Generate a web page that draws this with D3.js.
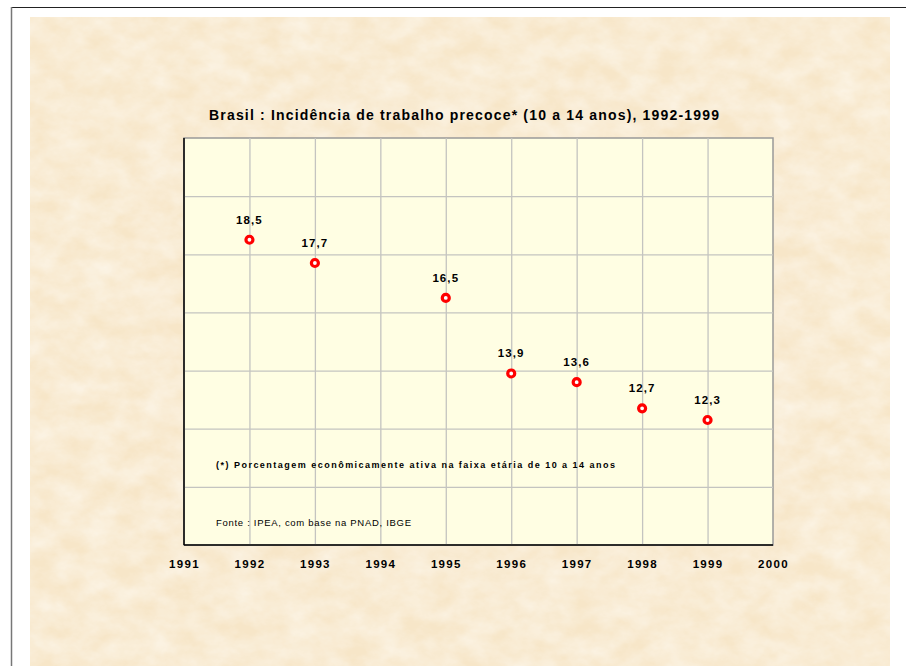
<!DOCTYPE html>
<html>
<head>
<meta charset="utf-8">
<script src="https://cdn.jsdelivr.net/npm/d3@7"></script>
<style>
  body { margin: 0; background: #fff; }
  text { font-family: "Liberation Sans", Arial, sans-serif; fill: #000; }
</style>
</head>
<body>
<div id="chart"></div>
<script>
// dados
var years = [1992, 1993, 1995, 1996, 1997, 1998, 1999];
var values = [18.5, 17.7, 16.5, 13.9, 13.6, 12.7, 12.3];
var labels = ["18,5", "17,7", "16,5", "13,9", "13,6", "12,7", "12,3"];
var xTicks = [1991, 1992, 1993, 1994, 1995, 1996, 1997, 1998, 1999, 2000];
var yTicks = [8, 10, 12, 14, 16, 18, 20, 22];

var title = "Brasil : Incidência de trabalho precoce* (10 a 14 anos), 1992-1999";
var note = "(*) Porcentagem econômicamente ativa na faixa etária de 10 a 14 anos";
var source = "Fonte : IPEA, com base na PNAD, IBGE";

var W = 906, H = 666;
var margin = {top: 138, left: 184},
    width = 589,
    height = 407;

var svg = d3.select("#chart").append("svg")
    .attr("width", W)
    .attr("height", H);

// textura de papel
var defs = svg.append("defs");
var paper = defs.append("filter").attr("id", "paper")
    .attr("x", 0).attr("y", 0).attr("width", 1).attr("height", 1);
paper.append("feTurbulence")
    .attr("type", "fractalNoise")
    .attr("baseFrequency", "0.035 0.05")
    .attr("numOctaves", 5)
    .attr("seed", 7);
paper.append("feColorMatrix")
    .attr("type", "matrix")
    .attr("values", "0 0 0 0 1  0 0 0 0 0.99  0 0 0 0 0.96  0.8 0 0 0 -0.17");

svg.append("rect")
    .attr("x", 30).attr("y", 17)
    .attr("width", 860).attr("height", H - 17)
    .attr("fill", "#f7e6c8");
svg.append("rect")
    .attr("x", 30).attr("y", 17)
    .attr("width", 860).attr("height", H - 17)
    .attr("filter", "url(#paper)");

// moldura
svg.append("line")
    .attr("x1", 11).attr("x2", W).attr("y1", 7.5).attr("y2", 7.5)
    .attr("stroke", "#222").attr("stroke-width", 1.2);
svg.append("line")
    .attr("x1", 11.5).attr("x2", 11.5).attr("y1", 7).attr("y2", H)
    .attr("stroke", "#777").attr("stroke-width", 1.5);

var g = svg.append("g")
    .attr("transform", "translate(" + margin.left + "," + margin.top + ")");

var x = d3.scaleLinear().domain([1991, 2000]).range([0, width]);
var y = d3.scaleLinear().domain([8, 22]).range([height, 0]);

// area do grafico
g.append("rect")
    .attr("width", width).attr("height", height)
    .attr("fill", "#fffee3")
    .attr("stroke", "#999").attr("stroke-width", 1.5);

// grades
g.append("g")
    .attr("class", "grid")
    .call(d3.axisBottom(x).tickValues(xTicks.slice(1, -1)).tickSize(height).tickFormat(""))
    .call(function(s){ s.select(".domain").remove(); })
    .selectAll("line").attr("stroke", "#c4c4c0").attr("stroke-width", 1.3);

g.append("g")
    .attr("class", "grid")
    .call(d3.axisLeft(y).tickValues(yTicks.slice(1, -1)).tickSize(-width).tickFormat(""))
    .call(function(s){ s.select(".domain").remove(); })
    .selectAll("line").attr("stroke", "#c4c4c0").attr("stroke-width", 1.3);

// eixos
g.append("line")
    .attr("x1", 0).attr("x2", 0).attr("y1", 0).attr("y2", height)
    .attr("stroke", "#000").attr("stroke-width", 1.5);
g.append("line")
    .attr("x1", 0).attr("x2", width).attr("y1", height).attr("y2", height)
    .attr("stroke", "#000").attr("stroke-width", 1.5);

var xAxis = g.append("g")
    .attr("transform", "translate(0," + height + ")")
    .call(d3.axisBottom(x).tickValues(xTicks).tickSize(0).tickPadding(15).tickFormat(d3.format("d")));
xAxis.select(".domain").remove();
xAxis.selectAll("text")
    .style("font-family", "'Liberation Sans', Arial, sans-serif")
    .style("font-size", "11.5px")
    .style("font-weight", "bold")
    .style("letter-spacing", "1.3px")
    .attr("fill", "#000");

// titulo
svg.append("text")
    .attr("x", 209).attr("y", 120)
    .attr("textLength", 510).attr("lengthAdjust", "spacing")
    .style("font-size", "14px")
    .style("font-weight", "bold")
    .text(title);

// pontos
var pts = years.map(function(d, i){ return {year: d, value: values[i], label: labels[i]}; });

g.selectAll("text.val")
    .data(pts)
    .enter()
    .append("text")
    .attr("class", "val")
    .attr("x", function(d){ return x(d.year); })
    .attr("y", function(d){ return y(d.value) - 16; })
    .attr("text-anchor", "middle")
    .style("font-size", "11.5px")
    .style("font-weight", "bold")
    .style("letter-spacing", "1.1px")
    .text(function(d){ return d.label; });

g.selectAll("circle")
    .data(pts)
    .enter()
    .append("circle")
    .attr("cx", function(d){ return x(d.year); })
    .attr("cy", function(d){ return y(d.value); })
    .attr("r", 3.5)
    .attr("fill", "#fff")
    .attr("stroke", "#f00")
    .attr("stroke-width", 3.2);

// notas
g.append("text")
    .attr("x", 32).attr("y", 330)
    .attr("textLength", 399).attr("lengthAdjust", "spacing")
    .style("font-size", "9px")
    .style("font-weight", "bold")
    .text(note);

g.append("text")
    .attr("x", 32).attr("y", 388)
    .attr("textLength", 195).attr("lengthAdjust", "spacing")
    .style("font-size", "9.5px")
    .text(source);
</script>
</body>
</html>
